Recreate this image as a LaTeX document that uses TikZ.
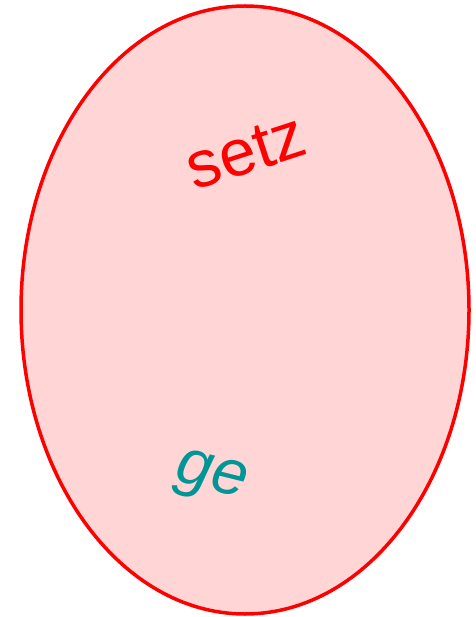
\documentclass[tikz,border=0pt]{standalone}
\usepackage{fontspec}
\setmainfont{Liberation Sans}
\usetikzlibrary{shapes.geometric}
\definecolor{pinkfill}{RGB}{255,213,213}
\definecolor{tealtxt}{RGB}{0,150,150}
\begin{document}
\begin{tikzpicture}[x=1pt,y=-1pt]
\useasboundingbox (0,0) rectangle (475,617);
\node[ellipse, draw=red, fill=pinkfill, line width=3.5pt, minimum width=448pt, minimum height=608pt, inner sep=0pt] (ell) at (245,310) {};
\node[text=red, rotate=18, font=\fontsize{66}{70}\selectfont] (setz) at (246,152) {setz};
\node[text=tealtxt, rotate=-14, font=\fontsize{64}{70}\selectfont\itshape] (ge) at (211,479) {ge};
\end{tikzpicture}
\end{document}
